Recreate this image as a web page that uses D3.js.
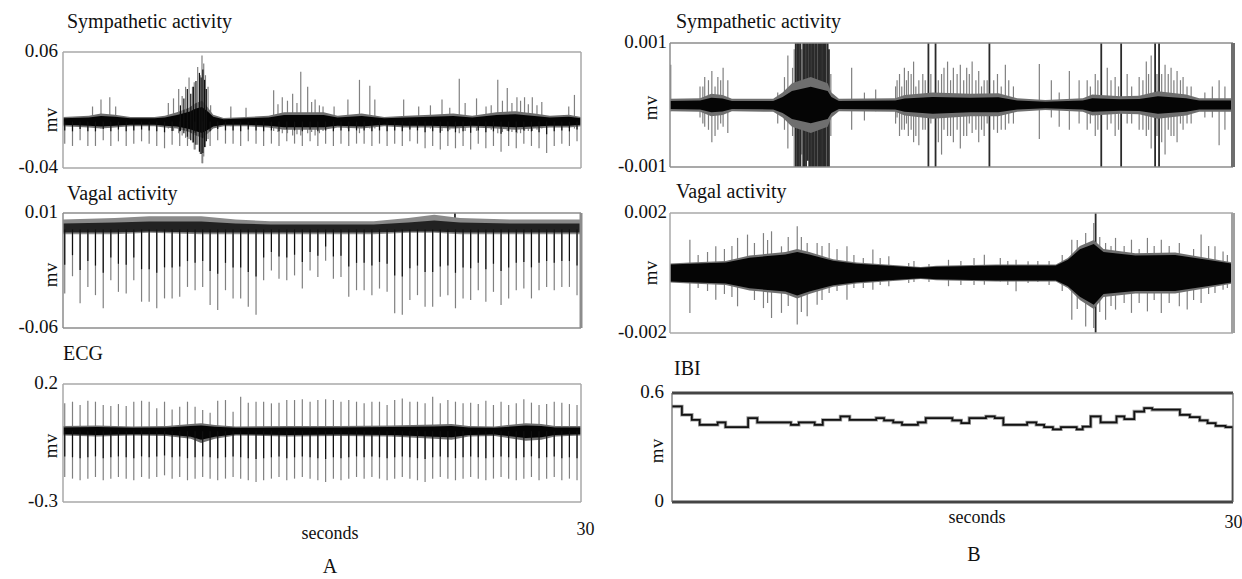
<!DOCTYPE html>
<html>
<head>
<meta charset="utf-8">
<script src="https://cdn.jsdelivr.net/npm/d3@7"></script>
<style>
  body { margin: 0; background: #fff; }
  text { font-family: "Liberation Serif", "Times New Roman", serif; fill: #111; }
</style>
</head>
<body>
<svg id="chart" width="1242" height="579"></svg>
<script>
// ---- data ----
var seconds = [0, 30];

// heartbeat times (s) for recording A
var beatTimes = [0.10, 0.55, 0.99, 1.44, 1.88, 2.33, 2.77, 3.21, 3.66, 4.10,
  4.55, 4.99, 5.43, 5.88, 6.32, 6.76, 7.21, 7.65, 8.09, 8.52,
  8.96, 9.41, 9.85, 10.29, 10.73, 11.18, 11.62, 12.07, 12.51, 12.96,
  13.41, 13.86, 14.31, 14.76, 15.21, 15.66, 16.10, 16.55, 17.00, 17.44,
  17.89, 18.33, 18.77, 19.21, 19.65, 20.09, 20.53, 20.97, 21.41, 21.85,
  22.29, 22.73, 23.17, 23.61, 24.05, 24.49, 24.93, 25.37, 25.81, 26.25,
  26.69, 27.13, 27.57, 28.01, 28.45, 28.89, 29.33, 29.77];

// A: sympathetic
var a1Ticks = [-0.04, 0.06];
var a1TickLabels = ["-0.04", "0.06"];
var a1BeatDepth = [-0.019, -0.021, -0.016, -0.021, -0.021, -0.016, -0.021, -0.017, -0.021, -0.019,
  -0.017, -0.019, -0.021, -0.023, -0.020, -0.021, -0.021, -0.024, -0.036, -0.021,
  -0.016, -0.019, -0.019, -0.021, -0.017, -0.019, -0.021, -0.019, -0.021, -0.017,
  -0.019, -0.021, -0.017, -0.021, -0.019, -0.021, -0.019, -0.021, -0.019, -0.019,
  -0.021, -0.019, -0.021, -0.019, -0.021, -0.017, -0.019, -0.023, -0.021, -0.024,
  -0.021, -0.023, -0.021, -0.024, -0.019, -0.023, -0.021, -0.026, -0.021, -0.023,
  -0.019, -0.021, -0.023, -0.027, -0.021, -0.019, -0.021, -0.017];
var a1EnvTimes = [0, 1.5, 2.2, 3.0, 3.9, 5.3, 5.9, 6.6, 7.3, 7.7, 8.05, 8.4, 8.7, 9.3, 10.6, 11.9,
  12.8, 13.9, 15.1, 15.9, 17.3, 18.6, 19.9, 21.3, 22.6, 23.7, 25.1, 26.2, 27.3, 28.2, 29.3, 30];
var a1EnvHi = [0.004, 0.005, 0.007, 0.006, 0.004, 0.004, 0.005, 0.008, 0.012, 0.016, 0.018, 0.012, 0.006, 0.003, 0.004, 0.005,
  0.008, 0.008, 0.008, 0.005, 0.007, 0.004, 0.005, 0.006, 0.007, 0.005, 0.008, 0.009, 0.007, 0.005, 0.006, 0.004];
var a1EnvLo = [-0.004, -0.005, -0.006, -0.005, -0.004, -0.004, -0.005, -0.006, -0.009, -0.012, -0.014, -0.010, -0.006, -0.004, -0.004, -0.005,
  -0.007, -0.007, -0.007, -0.005, -0.006, -0.004, -0.005, -0.005, -0.006, -0.005, -0.006, -0.007, -0.006, -0.005, -0.005, -0.004];
var a1Spikes = [[1.71, 0.013, -0.004], [2.2, 0.019, -0.006], [2.71, 0.021, -0.005], [3.05, 0.013, -0.004],
  [6.1, 0.016, -0.006], [6.4, 0.020, -0.008], [6.7, 0.028, -0.010], [6.9, 0.022, -0.012], [7.1, 0.030, -0.014],
  [7.3, 0.038, -0.015], [7.5, 0.030, -0.018], [7.6, 0.034, -0.024], [7.8, 0.047, -0.020], [7.95, 0.040, -0.028],
  [8.05, 0.057, -0.036], [8.15, 0.050, -0.030], [8.25, 0.040, -0.022], [8.4, 0.030, -0.015], [8.55, 0.014, -0.008],
  [9.72, 0.013, -0.004], [10.6, 0.012, -0.003], [12.2, 0.027, -0.008], [12.7, 0.021, -0.010], [13.3, 0.024, -0.012],
  [13.77, 0.043, -0.012], [14.17, 0.030, -0.010], [14.6, 0.019, -0.012], [15.06, 0.013, -0.008], [15.7, 0.013, -0.006],
  [16.5, 0.019, -0.006], [17.17, 0.036, -0.010], [17.77, 0.031, -0.006], [18.06, 0.019, -0.006], [19.73, 0.019, -0.005],
  [20.6, 0.013, -0.005], [21.28, 0.014, -0.006], [21.95, 0.019, -0.008], [22.95, 0.037, -0.010], [23.29, 0.016, -0.008],
  [23.95, 0.020, -0.008], [24.5, 0.013, -0.006], [25.18, 0.036, -0.010], [25.73, 0.029, -0.008], [26.29, 0.021, -0.010],
  [26.73, 0.021, -0.008], [27.18, 0.021, -0.008], [27.73, 0.017, -0.006], [29.29, 0.013, -0.005], [29.62, 0.023, -0.006],
  [12.45, 0.015, -0.009], [13.0, 0.018, -0.010], [13.55, 0.016, -0.011], [14.4, 0.017, -0.009], [14.85, 0.014, -0.010],
  [22.4, 0.012, -0.007], [24.8, 0.014, -0.007], [25.45, 0.018, -0.009], [26.0, 0.016, -0.009], [26.5, 0.018, -0.010],
  [26.95, 0.015, -0.008], [27.45, 0.014, -0.007]];
var a1BurstCores = [[6.8, 0.014, -0.008], [7.0, 0.020, -0.010], [7.2, 0.028, -0.013], [7.4, 0.024, -0.016], [7.55, 0.030, -0.018],
  [7.7, 0.035, -0.020], [7.9, 0.042, -0.026], [8.0, 0.038, -0.028], [8.1, 0.045, -0.027], [8.2, 0.036, -0.022], [8.3, 0.028, -0.017]];

// A: vagal
var a2Ticks = [-0.06, 0.01];
var a2TickLabels = ["-0.06", "0.01"];
var a2BeatDepth = [-0.039, -0.0285, -0.045, -0.035, -0.040, -0.048, -0.031, -0.038, -0.039, -0.031,
  -0.044, -0.044, -0.048, -0.042, -0.042, -0.041, -0.035, -0.037, -0.035, -0.046,
  -0.049, -0.037, -0.042, -0.042, -0.047, -0.052, -0.031, -0.025, -0.030, -0.031,
  -0.028, -0.036, -0.025, -0.029, -0.019, -0.030, -0.029, -0.041, -0.037, -0.037,
  -0.040, -0.036, -0.038, -0.051, -0.052, -0.043, -0.040, -0.047, -0.047, -0.041,
  -0.040, -0.048, -0.042, -0.043, -0.037, -0.044, -0.038, -0.046, -0.042, -0.037,
  -0.036, -0.042, -0.037, -0.035, -0.037, -0.035, -0.035, -0.040];
var a2EnvTimes = [0, 3, 5, 8, 10, 12, 15, 18, 20, 21.5, 23, 26, 30];
var a2EnvHi = [0.006, 0.007, 0.008, 0.008, 0.006, 0.005, 0.005, 0.005, 0.007, 0.009, 0.007, 0.006, 0.006];
var a2EnvLo = [-0.003, -0.003, -0.002, -0.003, -0.003, -0.003, -0.003, -0.003, -0.002, -0.002, -0.003, -0.003, -0.003];
var a2Spikes = [[22.7, 0.0105, 0.004]];

// A: ECG
var a3Ticks = [-0.3, 0.2];
var a3TickLabels = ["-0.3", "0.2"];
var a3BeatTop = [0.118, 0.125, 0.111, 0.129, 0.125, 0.111, 0.107, 0.115, 0.107, 0.125,
  0.129, 0.125, 0.097, 0.125, 0.092, 0.104, 0.125, 0.104, 0.090, 0.078,
  0.129, 0.132, 0.082, 0.146, 0.121, 0.125, 0.125, 0.118, 0.121, 0.132,
  0.132, 0.135, 0.125, 0.132, 0.135, 0.132, 0.125, 0.132, 0.125, 0.118,
  0.125, 0.125, 0.111, 0.132, 0.139, 0.125, 0.125, 0.118, 0.146, 0.118,
  0.132, 0.125, 0.118, 0.121, 0.115, 0.129, 0.111, 0.125, 0.111, 0.118,
  0.135, 0.121, 0.111, 0.115, 0.125, 0.121, 0.115, 0.111];
var a3BeatDepth = [-0.194, -0.201, -0.208, -0.201, -0.194, -0.208, -0.201, -0.194, -0.201, -0.208,
  -0.194, -0.201, -0.194, -0.187, -0.201, -0.194, -0.208, -0.201, -0.194, -0.201,
  -0.208, -0.201, -0.194, -0.201, -0.208, -0.215, -0.208, -0.201, -0.194, -0.208,
  -0.201, -0.194, -0.201, -0.208, -0.215, -0.201, -0.208, -0.201, -0.194, -0.201,
  -0.194, -0.201, -0.208, -0.201, -0.194, -0.201, -0.208, -0.215, -0.201, -0.194,
  -0.201, -0.208, -0.201, -0.194, -0.201, -0.208, -0.201, -0.194, -0.201, -0.208,
  -0.201, -0.194, -0.208, -0.201, -0.194, -0.208, -0.201, -0.208];
var a3EnvTimes = [0, 2, 4, 6, 7.4, 8, 8.8, 10, 13, 16, 19, 21.5, 22.5, 23.5, 25, 26.8, 27.7, 28.5, 30];
var a3EnvHi = [0.022, 0.024, 0.020, 0.022, 0.030, 0.034, 0.026, 0.020, 0.022, 0.022, 0.024, 0.028, 0.030, 0.022, 0.020, 0.034, 0.030, 0.022, 0.022];
var a3EnvLo = [-0.018, -0.022, -0.018, -0.020, -0.032, -0.050, -0.032, -0.018, -0.022, -0.020, -0.022, -0.032, -0.036, -0.022, -0.020, -0.040, -0.036, -0.022, -0.018];

// B: sympathetic
var b1Ticks = [-0.001, 0.001];
var b1TickLabels = ["-0.001", "0.001"];
var b1EnvTimes = [0, 1.6, 2.2, 2.8, 3.3, 5.5, 6.0, 6.5, 7.5, 8.4, 8.6, 9.0, 12, 12.5, 14, 16, 17.5, 18.5, 20, 22, 22.5, 24, 25, 26, 27.5, 28.2, 30];
var b1EnvHi = [0.0001, 0.00011, 0.00018, 0.00016, 0.0001, 0.0001, 0.0002, 0.00035, 0.00045, 0.00035, 0.0002, 0.0001, 0.00011, 0.00016, 0.0002, 0.00018, 0.00019, 0.00011, 0.00008, 0.00011, 0.00017, 0.00014, 0.00015, 0.00022, 0.00017, 0.00011, 0.00011];
var b1EnvLo = [-0.0001, -0.00011, -0.00018, -0.00016, -0.0001, -0.00011, -0.0002, -0.00035, -0.00045, -0.00035, -0.0002, -0.0001, -0.00011, -0.00017, -0.00022, -0.00018, -0.00018, -0.00011, -0.00008, -0.00011, -0.00017, -0.00014, -0.00015, -0.00022, -0.00017, -0.00011, -0.00011];
var b1Spikes = [[0.04, 0.00065, -0.0001], [1.6, 0.0003, -0.0002], [1.85, 0.00045, -0.00035], [2.23, 0.00055, -0.0006],
  [2.55, 0.00045, -0.0004], [2.83, 0.0006, -0.00035], [3.08, 0.0004, -0.00045], [5.74, 0.0002, -0.0003],
  [6.1, 0.00045, -0.0004], [6.28, 0.0008, -0.0007], [6.53, 0.0006, -0.0005], [6.7, 0.0012, -0.0012], [6.87, 0.0012, -0.0012],
  [7.02, 0.0009, -0.0008], [7.17, 0.0012, -0.0012], [7.34, 0.0012, -0.0009], [7.51, 0.0012, -0.0012], [7.66, 0.0012, -0.0012],
  [7.81, 0.0012, -0.0012], [7.98, 0.0012, -0.0012], [8.1, 0.0012, -0.0012], [8.23, 0.0012, -0.0012], [8.4, 0.0012, -0.0012],
  [8.57, 0.0005, -0.0005], [9.68, 0.0006, -0.0004], [10.36, 0.0002, -0.00025], [10.96, 0.00025, -0.0001],
  [6.62, 0.0009, -0.0010], [6.78, 0.0012, -0.0011], [6.95, 0.0012, -0.0012], [7.1, 0.0011, -0.0012], [7.25, 0.0012, -0.0012],
  [7.42, 0.0012, -0.0012], [7.58, 0.0012, -0.0012], [7.74, 0.0012, -0.0012], [7.9, 0.0012, -0.0012], [8.04, 0.0012, -0.0012],
  [8.17, 0.0012, -0.0012], [8.3, 0.0012, -0.0012], [8.47, 0.0009, -0.0011],
  [12.02, 0.0003, -0.0003], [12.23, 0.0005, -0.0005], [12.49, 0.0006, -0.0004], [12.7, 0.00055, -0.0005], [12.98, 0.0007, -0.0006],
  [13.26, 0.0004, -0.00065], [13.47, 0.0005, -0.0004], [13.77, 0.0012, -0.0012], [14.15, 0.0012, -0.0012], [14.47, 0.0005, -0.0008],
  [14.79, 0.0007, -0.0005], [15.1, 0.0006, -0.0006], [15.47, 0.00065, -0.0007], [15.81, 0.0006, -0.0005], [16.1, 0.0007, -0.00045],
  [16.45, 0.00055, -0.0006], [16.74, 0.0004, -0.0005], [17.02, 0.0012, -0.0012], [17.45, 0.0005, -0.00045], [17.87, 0.00065, -0.0004],
  [18.3, 0.0003, -0.0003], [19.68, 0.00066, -0.00055], [20.32, 0.0004, -0.0002], [20.74, 0.0002, -0.00035], [21.28, 0.00055, -0.0004],
  [21.8, 0.0004, -0.0003], [22.23, 0.0004, -0.0004], [22.66, 0.0005, -0.0005], [22.98, 0.0012, -0.0012], [23.3, 0.0006, -0.0004],
  [23.72, 0.00045, -0.0005], [24.04, 0.0012, -0.0012], [24.36, 0.0005, -0.0003], [25.0, 0.00045, -0.0004], [25.38, 0.0007, -0.0005],
  [25.64, 0.0008, -0.0007], [25.85, 0.0012, -0.0012], [26.06, 0.0012, -0.0012], [26.38, 0.00065, -0.0008], [26.7, 0.0006, -0.0005],
  [27.02, 0.00055, -0.0006], [27.34, 0.00045, -0.0004], [27.77, 0.0003, -0.0003], [29.26, 0.0004, -0.00065], [29.57, 0.0003, -0.0004],
  [1.75, 0.0003, -0.0003], [2.05, 0.0004, -0.0004], [2.4, 0.0003, -0.0005], [2.7, 0.0004, -0.0003], [12.1, 0.0004, -0.0002],
  [12.35, 0.0003, -0.0004], [12.6, 0.0004, -0.0003], [12.85, 0.0005, -0.0004], [13.1, 0.0003, -0.0005], [13.6, 0.0004, -0.0004],
  [13.9, 0.0005, -0.0003], [14.3, 0.0004, -0.0006], [14.6, 0.0006, -0.0004], [14.95, 0.0004, -0.0005], [15.3, 0.0005, -0.0004],
  [15.65, 0.0004, -0.0005], [15.95, 0.0005, -0.0003], [16.3, 0.0004, -0.0004], [16.6, 0.0003, -0.0004], [16.9, 0.0004, -0.0003],
  [17.25, 0.0004, -0.0004], [17.65, 0.0003, -0.0004], [18.05, 0.0004, -0.0003], [22.4, 0.0003, -0.0003], [22.8, 0.0004, -0.0004],
  [23.5, 0.0004, -0.0003], [23.9, 0.0003, -0.0004], [24.6, 0.0003, -0.0003], [25.2, 0.0004, -0.0004], [25.5, 0.0005, -0.0004],
  [25.95, 0.0005, -0.0005], [26.2, 0.0005, -0.0006], [26.55, 0.0005, -0.0004], [26.85, 0.0004, -0.0005], [27.2, 0.0004, -0.0003],
  [27.55, 0.0003, -0.0003], [28.5, 0.0002, -0.0002], [28.9, 0.0003, -0.0002]];

// B: vagal
var b2Ticks = [-0.002, 0.002];
var b2TickLabels = ["-0.002", "0.002"];
var b2EnvTimes = [0, 1.06, 2.97, 4.24, 6.15, 6.78, 7.42, 8.69, 9.96, 12.08, 13.36, 14.2, 17.38, 20.56, 21.2, 21.84, 22.58, 23.1, 24.8, 26.92, 28.62, 30];
var b2EnvHi = [0.00032, 0.00035, 0.0004, 0.00058, 0.0007, 0.0008, 0.0007, 0.00046, 0.00035, 0.00026, 0.0002, 0.00024, 0.00028, 0.00028, 0.0005, 0.0009, 0.0011, 0.0008, 0.00066, 0.00068, 0.0005, 0.00035];
var b2EnvLo = [-0.00032, -0.00035, -0.0004, -0.00058, -0.0007, -0.00085, -0.0007, -0.00046, -0.00035, -0.00026, -0.0002, -0.00024, -0.00028, -0.00028, -0.0005, -0.0009, -0.0012, -0.0008, -0.00068, -0.00068, -0.0005, -0.00035];
var b2Spikes = [[1.06, 0.00111, -0.00133], [2.44, 0.00089, -0.00089], [3.6, 0.00117, -0.00111], [4.13, 0.00128, -0.00056],
  [4.98, 0.00133, -0.00117], [5.41, 0.00139, -0.0015], [5.94, 0.00089, -0.00133], [6.78, 0.00156, -0.00172],
  [7.31, 0.001, -0.00144], [7.84, 0.001, -0.00106], [8.48, 0.001, -0.00067], [9.43, 0.00089, -0.00089],
  [10.81, 0.00078, -0.00056], [11.66, 0.00056, -0.00044], [12.72, 0.00033, -0.00033], [14.84, 0.00044, -0.00044],
  [16.75, 0.00061, -0.00039], [17.6, 0.0005, -0.00028], [18.44, 0.00044, -0.00061], [19.08, 0.00039, -0.00033],
  [21.41, 0.00111, -0.00156], [22.15, 0.00133, -0.00178], [22.58, 0.00167, -0.00183], [22.68, 0.0025, -0.0025],
  [23.21, 0.001, -0.00156], [23.74, 0.00117, -0.00122], [24.59, 0.00111, -0.00133], [25.44, 0.00117, -0.00128],
  [26.18, 0.00111, -0.00133], [27.14, 0.001, -0.00111], [27.56, 0.00056, -0.00122], [28.3, 0.00128, -0.001],
  [29.04, 0.00089, -0.00067], [29.47, 0.00072, -0.00056],
  [1.5, 0.0006, -0.0005], [2.0, 0.0007, -0.0006], [2.9, 0.0008, -0.0007], [3.3, 0.0009, -0.0008], [4.5, 0.001, -0.0009],
  [5.2, 0.0011, -0.001], [6.3, 0.0012, -0.0011], [7.0, 0.0012, -0.0013], [8.1, 0.0009, -0.0009], [8.9, 0.0008, -0.0006],
  [9.8, 0.0006, -0.0005], [10.3, 0.0005, -0.0005], [11.2, 0.0005, -0.0004], [13.0, 0.0004, -0.0003], [13.8, 0.0003, -0.0003],
  [15.5, 0.0004, -0.0004], [16.2, 0.0005, -0.0004], [18.0, 0.0004, -0.0004], [19.6, 0.0004, -0.0003], [20.2, 0.0004, -0.0004],
  [20.9, 0.0006, -0.0006], [21.7, 0.0011, -0.0012], [22.9, 0.0012, -0.0013], [23.5, 0.0009, -0.0011], [24.2, 0.0009, -0.001],
  [25.0, 0.0008, -0.001], [25.8, 0.0009, -0.0009], [26.6, 0.0009, -0.001], [27.9, 0.0008, -0.0009], [28.7, 0.0009, -0.0007],
  [29.7, 0.0006, -0.0005]];

// B: inter-beat interval (step trace)
var ibiTicks = [0, 0.6];
var ibiTickLabels = ["0", "0.6"];
var ibiTimes = [0, 0.53, 1.06, 1.48, 2.44, 2.86, 4.07, 4.56, 6.36, 6.78, 7.63, 8.06, 9.01, 9.5, 10.92, 11.34,
  11.83, 12.3, 13.15, 13.57, 14.99, 15.47, 15.9, 16.79, 17.26, 17.72, 18.99, 19.48, 19.9, 20.37, 20.8,
  21.64, 21.96, 22.39, 22.92, 23.77, 24.19, 24.72, 25.25, 25.68, 27.16, 27.69, 28.22, 28.64, 29.07, 29.6];
var ibiValues = [0.526, 0.48, 0.452, 0.425, 0.438, 0.412, 0.462, 0.438, 0.425, 0.438, 0.425, 0.452, 0.471, 0.452, 0.462, 0.449,
  0.438, 0.425, 0.438, 0.462, 0.449, 0.434, 0.462, 0.471, 0.462, 0.425, 0.438, 0.425, 0.412, 0.40, 0.412,
  0.40, 0.415, 0.471, 0.438, 0.471, 0.456, 0.498, 0.517, 0.508, 0.48, 0.467, 0.449, 0.434, 0.419, 0.412];
var ibiEndValue = 0;

// ---- drawing ----
var svg = d3.select("#chart");
var defs = svg.append("defs");

function drawPanel(p) {
  var g = svg.append("g").attr("class", "panel " + p.id);

  var x = d3.scaleLinear().domain(seconds).range([p.left, p.right]);
  var y = d3.scaleLinear().domain(p.ticks).range([p.bottom, p.top]);
  var lo = p.ticks[0], hi = p.ticks[1];

  defs.append("clipPath").attr("id", "clip-" + p.id)
    .append("rect")
      .attr("x", p.left).attr("y", p.top)
      .attr("width", p.right - p.left).attr("height", p.bottom - p.top);

  var plot = g.append("g").attr("clip-path", "url(#clip-" + p.id + ")");

  function vlines(sel, data, color, width) {
    sel.append("g").selectAll("line")
      .data(data)
      .join("line")
        .attr("x1", function(d) { return x(d[0]); })
        .attr("x2", function(d) { return x(d[0]); })
        .attr("y1", function(d) { return y(d[1]); })
        .attr("y2", function(d) { return y(d[2]); })
        .attr("stroke", color)
        .attr("stroke-width", width);
  }

  // gray spikes; saturated ones (past the range) are drawn dark
  if (p.spikes) {
    vlines(plot, p.spikes,
      function(d) { return (d[1] > hi || d[2] < lo) ? "#2a2a2a" : (p.spikeColor || "#808080"); },
      function(d) { return (d[1] > hi || d[2] < lo) ? 1.8 : 1.2; });
  }

  // dense baseline band: gray fringe + black core
  if (p.envTimes) {
    var env = p.envTimes.map(function(t, i) { return [t, p.envHi[i], p.envLo[i]]; });
    var fringe = d3.area()
      .x(function(d) { return x(d[0]); })
      .y0(function(d) { return y(d[2]); })
      .y1(function(d) { return y(d[1]); });
    var core = d3.area()
      .x(function(d) { return x(d[0]); })
      .y0(function(d) { return y(d[2] * p.coreShare); })
      .y1(function(d) { return y(d[1] * p.coreShare); });
    plot.append("path").datum(env).attr("d", fringe).attr("fill", p.fringeColor || "#6f6f6f");
    plot.append("path").datum(env).attr("d", core).attr("fill", p.coreColor || "#050505");
  }

  // black cores of spikes
  if (p.cores) {
    vlines(plot, p.cores, "#111", 1.2);
  }

  // step trace
  if (p.steps) {
    var line = d3.line()
      .curve(d3.curveStepAfter)
      .x(function(d) { return x(d[0]); })
      .y(function(d) { return y(d[1]); });
    plot.append("path").datum(p.steps)
      .attr("d", line)
      .attr("fill", "none")
      .attr("stroke", "#9a9a9a")
      .attr("stroke-width", 3.4);
    plot.append("path").datum(p.steps)
      .attr("d", line)
      .attr("fill", "none")
      .attr("stroke", "#111")
      .attr("stroke-width", 1.7);
  }

  // frame
  var sides = [
    ["top", p.left, p.top, p.right, p.top],
    ["bottom", p.left, p.bottom, p.right, p.bottom],
    ["left", p.left, p.top, p.left, p.bottom],
    ["right", p.right, p.top, p.right, p.bottom]
  ];
  g.append("g").attr("class", "frame").selectAll("line")
    .data(sides)
    .join("line")
      .attr("x1", function(d) { return d[1]; })
      .attr("y1", function(d) { return d[2]; })
      .attr("x2", function(d) { return d[3]; })
      .attr("y2", function(d) { return d[4]; })
      .attr("stroke", function(d) { return p.frame[d[0]][0]; })
      .attr("stroke-width", function(d) { return p.frame[d[0]][1]; });

  // y labels (only the range ends)
  var ya = g.append("g")
    .attr("transform", "translate(" + p.left + ",0)")
    .call(d3.axisLeft(y)
      .tickValues(p.ticks)
      .tickSize(0)
      .tickPadding(p.tickPad)
      .tickFormat(function(d, i) { return p.tickLabels[i]; }));
  ya.select(".domain").remove();
  ya.selectAll("text")
    .attr("font-size", 19)
    .attr("dy", "0.22em")
    .style("font-family", '"Liberation Serif", serif')
    .attr("fill", "#111");

  // x label "30"
  if (p.xTicks) {
    var xa = g.append("g")
      .attr("transform", "translate(0," + p.bottom + ")")
      .call(d3.axisBottom(x).tickValues(p.xTicks).tickSize(0).tickPadding(p.xPad));
    xa.select(".domain").remove();
    xa.selectAll("text")
      .attr("font-size", 18)
      .attr("dx", p.xDx || 0)
      .style("font-family", '"Liberation Serif", serif')
      .attr("fill", "#111");
  }

  g.append("text")
    .attr("x", p.titleX).attr("y", p.titleY)
    .attr("font-size", 20)
    .text(p.title);

  g.append("text")
    .attr("transform", "translate(" + p.mvX + "," + p.mvY + ") rotate(-90)")
    .attr("text-anchor", "middle")
    .attr("dy", "0.35em")
    .attr("font-size", 19)
    .text("mv");
}

function beatLines(top, depth) {
  return beatTimes.map(function(t, i) {
    return [t, Array.isArray(top) ? top[i] : top, depth[i]];
  });
}
function beatCores(depth, share) {
  return beatTimes.map(function(t, i) { return [t, 0, depth[i] * share]; });
}

var AL = 63, AR = 581, BL = 670, BR = 1233;
var light = ["#a8a8a8", 1.5], mid = ["#8c8c8c", 1.5];

drawPanel({
  id: "a1", title: "Sympathetic activity", titleX: 67, titleY: 28,
  left: AL, right: AR, top: 52, bottom: 168, ticks: a1Ticks, tickLabels: a1TickLabels, tickPad: 5,
  mvX: 50, mvY: 120,
  spikes: beatLines(0, a1BeatDepth).concat(a1Spikes),
  envTimes: a1EnvTimes, envHi: a1EnvHi, envLo: a1EnvLo, coreShare: 0.7,
  cores: beatCores(a1BeatDepth, 0.4).concat(a1BurstCores),
  frame: { top: light, bottom: light, left: light, right: light }
});

drawPanel({
  id: "a2", title: "Vagal activity", titleX: 67, titleY: 200,
  left: AL, right: AR, top: 213, bottom: 328, ticks: a2Ticks, tickLabels: a2TickLabels, tickPad: 5,
  mvX: 50, mvY: 275,
  spikes: beatLines(0.004, a2BeatDepth).concat(a2Spikes),
  envTimes: a2EnvTimes, envHi: a2EnvHi, envLo: a2EnvLo, coreShare: 0.6, fringeColor: "#8a8a8a", coreColor: "#222",
  cores: beatCores(a2BeatDepth, 0.55),
  frame: { top: mid, bottom: mid, left: mid, right: ["#8c8c8c", 3] }
});

drawPanel({
  id: "a3", title: "ECG", titleX: 63, titleY: 360,
  left: AL, right: AR, top: 384, bottom: 502, ticks: a3Ticks, tickLabels: a3TickLabels, tickPad: 5,
  mvX: 50, mvY: 446,
  spikes: beatLines(a3BeatTop, a3BeatDepth),
  envTimes: a3EnvTimes, envHi: a3EnvHi, envLo: a3EnvLo, coreShare: 0.72,
  cores: beatCores(a3BeatDepth, 0.55),
  frame: { top: light, bottom: light, left: light, right: light },
  xTicks: [30], xPad: 20, xDx: 4
});

drawPanel({
  id: "b1", title: "Sympathetic activity", titleX: 676, titleY: 28,
  left: BL, right: BR, top: 43, bottom: 167, ticks: b1Ticks, tickLabels: b1TickLabels, tickPad: 3,
  mvX: 650, mvY: 108,
  spikes: b1Spikes,
  envTimes: b1EnvTimes, envHi: b1EnvHi, envLo: b1EnvLo, coreShare: 0.65,
  frame: { top: mid, bottom: mid, left: mid, right: ["#6e6e6e", 4] }
});

drawPanel({
  id: "b2", title: "Vagal activity", titleX: 676, titleY: 198,
  left: BL, right: BR, top: 213, bottom: 333, ticks: b2Ticks, tickLabels: b2TickLabels, tickPad: 3,
  mvX: 650, mvY: 273,
  spikes: b2Spikes,
  envTimes: b2EnvTimes, envHi: b2EnvHi, envLo: b2EnvLo, coreShare: 0.88,
  frame: { top: light, bottom: light, left: light, right: ["#a0a0a0", 4] }
});

var ibiSteps = ibiTimes.map(function(t, i) { return [t, ibiValues[i]]; });
ibiSteps.push([seconds[1], ibiValues[ibiValues.length - 1]]);
ibiSteps.push([seconds[1], ibiEndValue]);

drawPanel({
  id: "ibi", title: "IBI", titleX: 674, titleY: 375,
  left: 672, right: BR, top: 393, bottom: 502, ticks: ibiTicks, tickLabels: ibiTickLabels, tickPad: 8,
  mvX: 656, mvY: 451,
  steps: ibiSteps,
  frame: { top: ["#444", 3], bottom: ["#444", 3], left: ["#666", 1.2], right: ["#666", 1.2] },
  xTicks: [30], xPad: 13
});

// axis captions
var captions = [
  { text: "seconds", x: 330, y: 539, size: 18 },
  { text: "A", x: 330, y: 573, size: 20 },
  { text: "seconds", x: 977, y: 523, size: 18 },
  { text: "B", x: 974, y: 561, size: 20 }
];
svg.append("g").selectAll("text")
  .data(captions)
  .join("text")
    .attr("x", function(d) { return d.x; })
    .attr("y", function(d) { return d.y; })
    .attr("text-anchor", "middle")
    .attr("font-size", function(d) { return d.size; })
    .text(function(d) { return d.text; });
</script>
</body>
</html>
